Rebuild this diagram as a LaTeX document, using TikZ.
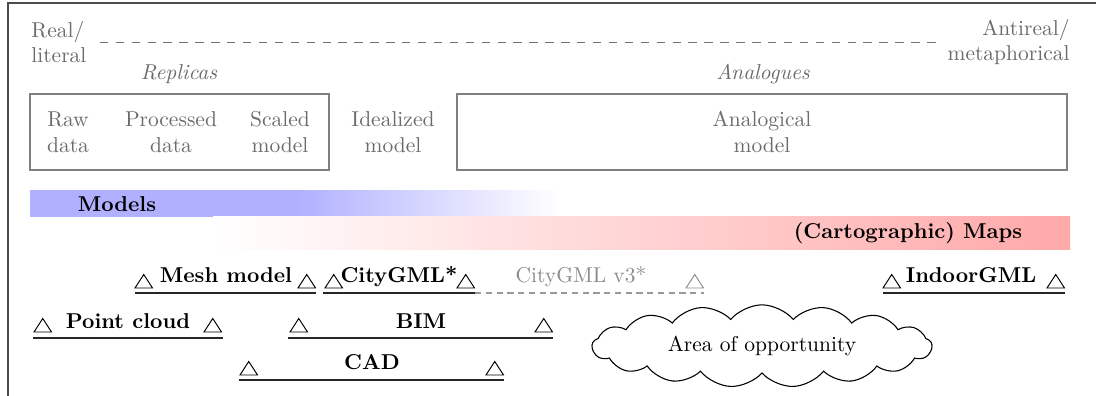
\documentclass[tikz,border=0pt]{standalone}
\usetikzlibrary{shapes.symbols}
\begin{document}
\begin{tikzpicture}[x=0.4651pt,y=-0.4651pt,
  lbl/.style={inner sep=0pt, text=black!58},
  item/.style={inner sep=0pt, font=\bfseries, anchor=base},
  uline/.style={line width=0.7pt, black!85},
  greybox/.style={draw=black!50, line width=0.5pt, inner sep=0pt},
  tri/.pic={\draw[line width=0.45pt] (0,0) -- (17.5,0) -- (8.75,-13.5) -- cycle;},
  trigray/.pic={\draw[line width=0.45pt, black!45] (0,0) -- (17.5,0) -- (8.75,-13.5) -- cycle;}
]
\useasboundingbox (0,0) rectangle (1096,396);
% frame (cropped)
\draw[black!70, line width=0.6pt] (8,396) -- (8,3) -- (1096,3);

% scale of realism
\node[lbl, anchor=west, align=left] (real) at (31,42) {Real/\\literal};
\node[lbl, anchor=east, align=right] (anti) at (1070,42) {Antireal/\\metaphorical};
\draw[black!55, line width=0.45pt, dash pattern=on 3.9pt off 3.5pt, shorten <=6pt, shorten >=4.7pt] (real.east) -- (anti.west);

\node[lbl, anchor=base, font=\itshape] (replicas) at (179,80) {Replicas};
\node[lbl, anchor=base, font=\itshape] (analogues) at (763,80) {Analogues};

\node[greybox, minimum width=299*0.4651pt, minimum height=76*0.4651pt] (repbox) at (179.5,132) {};
\node[greybox, minimum width=610*0.4651pt, minimum height=76*0.4651pt] (anabox) at (762,132) {};

\node[lbl, align=center] (raw) at (68,132) {Raw\\data};
\node[lbl, align=center] (proc) at (171,132) {Processed\\data};
\node[lbl, align=center] (scaled) at (280,132) {Scaled\\model};
\node[lbl, align=center] (ideal) at (393,132) {Idealized\\model};
\node[lbl, align=center] (analog) at (762,132) {Analogical\\model};

% bars
\shade[left color=blue!31, right color=white, middle color=blue!31] (30,191) rectangle (560,217);
\shade[left color=white, right color=red!34] (213,217) rectangle (1070,250);
\node[inner sep=0pt, font=\bfseries] (models) at (117,204) {Models};
\node[inner sep=0pt, font=\bfseries] (maps) at (908,233) {(Cartographic) Maps};

% row 1
\coordinate (meshL) at (135,293); \coordinate (meshR) at (316,293);
\draw[uline] (meshL) -- (meshR);
\pic at (135,288) {tri}; \pic at (298,288) {tri};
\node[item] (mesh) at (226,283) {Mesh model};

\coordinate (cityL) at (323,293); \coordinate (cityR) at (475,293);
\draw[uline] (cityL) -- (cityR);
\pic at (325,288) {tri}; \pic at (457,288) {tri};
\node[item] (city) at (399,283) {CityGML*};

\coordinate (v3R) at (704,293);
\draw[black!40, line width=0.6pt, dash pattern=on 3pt off 2pt] (cityR) -- (v3R);
\pic at (686,288) {trigray};
\node[inner sep=0pt, anchor=base, text=black!45] (v3) at (581,283) {CityGML v3*};

\coordinate (indL) at (883,293); \coordinate (indR) at (1065,293);
\draw[uline] (indL) -- (indR);
\pic at (883,288) {tri}; \pic at (1047,288) {tri};
\node[item] (indoor) at (971,283) {IndoorGML};

% row 2
\coordinate (pcL) at (33,338); \coordinate (pcR) at (223,338);
\draw[uline] (pcL) -- (pcR);
\pic at (34,332) {tri}; \pic at (204,332) {tri};
\node[item] (pc) at (128,329) {Point cloud};

\coordinate (bimL) at (288,338); \coordinate (bimR) at (553,338);
\draw[uline] (bimL) -- (bimR);
\pic at (290,332) {tri}; \pic at (535,332) {tri};
\node[item] (bim) at (421,329) {BIM};

% row 3
\coordinate (cadL) at (239,380); \coordinate (cadR) at (504,380);
\draw[uline] (cadL) -- (cadR);
\pic at (240,375) {tri}; \pic at (486,375) {tri};
\node[item] (cad) at (372,370) {CAD};

% cloud
\node[cloud, draw, cloud puffs=17, cloud puff arc=100, aspect=4.4,
      minimum width=158pt, minimum height=36pt, inner sep=0pt, line width=0.5pt] (opp) at (762,346) {Area of opportunity};
\end{tikzpicture}
\end{document}
